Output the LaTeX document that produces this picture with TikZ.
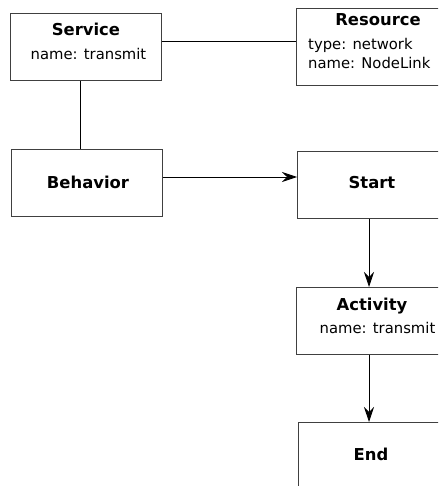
\documentclass[tikz,border=0pt]{standalone}
\usepackage{fontspec}
\setmainfont{DejaVu Sans}
\usetikzlibrary{arrows.meta}
\begin{document}
\begin{tikzpicture}[x=1pt,y=-1pt,
  box/.style={draw=black!75,line width=0.9pt,fill=white,inner sep=0pt,
    minimum width=#1,minimum height=67pt,anchor=north west},
  box/.default=151pt,
  title/.style={anchor=base,font=\fontsize{16.4}{16.4}\selectfont\bfseries,inner sep=0pt},
  attr/.style={anchor=base,font=\fontsize{14.8}{14.8}\selectfont,inner sep=0pt},
  attrl/.style={anchor=base west,font=\fontsize{14.8}{14.8}\selectfont,inner sep=0pt},
  link/.style={draw=black,line width=0.8pt},
  flow/.style={link,-{Stealth[length=15pt,width=10pt,inset=5pt]}}]
\useasboundingbox (0,0) rectangle (438,486);
\clip (0,0) rectangle (438,486);

% boxes
\node[box] (service)  at (10,13)  {};
\node[box=164pt,minimum height=77pt] (resource) at (296,8) {};
\node[box] (behavior) at (11,149) {};
\node[box] (start)    at (297,151) {};
\node[box] (activity) at (296,287) {};
\node[box] (end)      at (298,422) {};

% texts
\node[title] (serviceT) at (86,36) {Service};
\node[attr]  (serviceA) at (88.5,60) {name: transmit};
\node[title] (resourceT) at (378,26) {Resource};
\node[attrl] (resourceA) at (308,50) {type: network};
\node[attrl] (resourceB) at (308,69) {name: NodeLink};
\node[title] (behaviorT) at (88,188) {Behavior};
\node[title] (startT) at (372,188) {Start};
\node[title] (activityT) at (372,310) {Activity};
\node[attr]  (activityA) at (377.5,333) {name: transmit};
\node[title] (endT) at (371,460) {End};

% connectors
\draw[link] (service.east |- 0,41) -- (resource.west |- 0,41);
\draw[link] (service.south -| 80,0) -- (behavior.north -| 80,0);
\draw[flow] (behavior.east |- 0,177) -- (start.west |- 0,177);
\draw[flow] (start.south -| 369,0) -- (activity.north -| 369,0);
\draw[flow] (activity.south -| 369,0) -- (end.north -| 369,0);
\end{tikzpicture}
\end{document}
